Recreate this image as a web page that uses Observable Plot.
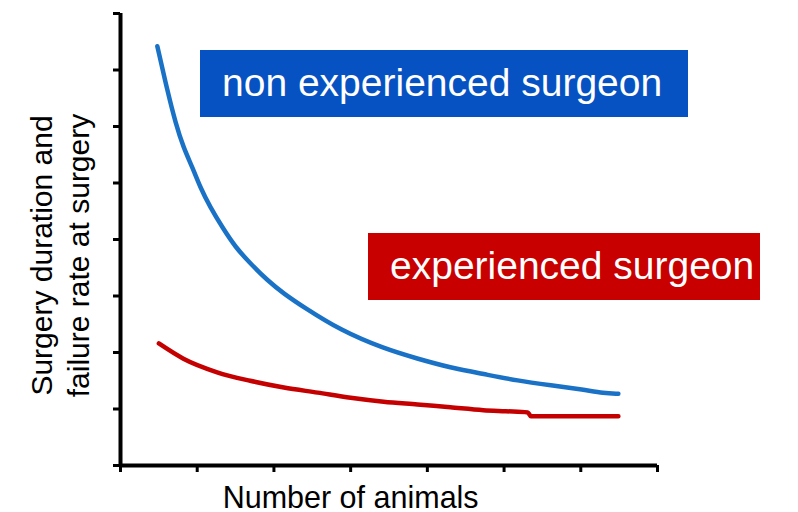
<!DOCTYPE html>
<html>
<head>
<meta charset="utf-8">
<script src="https://cdn.jsdelivr.net/npm/d3@7"></script>
<script src="https://cdn.jsdelivr.net/npm/@observablehq/plot@0.6"></script>
<style>
  html, body { margin: 0; padding: 0; background: #fff; }
  #wrap { position: relative; width: 798px; height: 512px; font-family: "Liberation Sans", Arial, sans-serif; }
  .tag { position: absolute; color: #fff; font-size: 39px; line-height: 1; white-space: nowrap; box-sizing: border-box; display: flex; align-items: center; justify-content: flex-start; padding-left: 22px; padding-bottom: 2px; }
</style>
</head>
<body>
<div id="wrap"></div>
<script>
// Number of animals (arbitrary units) for the non experienced surgeon curve
const novX = [0.48, 0.61, 0.72, 0.82, 0.94, 1.04, 1.17, 1.33, 1.50, 1.69, 1.92, 2.13, 2.39, 2.87, 3.43, 3.87, 4.30, 4.73, 5.18, 5.61, 6.04, 6.30, 6.49];
const novY = [7.42, 6.64, 6.05, 5.63, 5.27, 4.92, 4.57, 4.21, 3.86, 3.58, 3.27, 3.04, 2.80, 2.39, 2.07, 1.89, 1.73, 1.62, 1.50, 1.42, 1.34, 1.28, 1.27];
// experienced surgeon curve
const expX = [0.50, 0.82, 1.26, 1.69, 2.13, 2.57, 3.00, 3.43, 3.87, 4.30, 4.73, 5.02, 5.31, 5.35, 6.00, 6.49];
const expY = [2.16, 1.89, 1.65, 1.50, 1.38, 1.29, 1.20, 1.13, 1.08, 1.03, 0.98, 0.96, 0.94, 0.87, 0.87, 0.87];
const xTicks = [0, 1, 2, 3, 4, 5, 6, 7];
const yTicks = [0, 1, 2, 3, 4, 5, 6, 7, 8];
const seriesNames = ["non experienced surgeon", "experienced surgeon"];
const xLabel = "Number of animals";
const yLabel = "Surgery duration and\nfailure rate at surgery";

const nov = novX.map((x, i) => ({x, y: novY[i], s: seriesNames[0]}));
const exp = expX.map((x, i) => ({x, y: expY[i], s: seriesNames[1]}));

const chart = Plot.plot({
  width: 798,
  height: 512,
  marginLeft: 120,
  marginRight: 141,
  marginTop: 13,
  marginBottom: 47,
  style: {fontFamily: "'Liberation Sans', Arial, sans-serif", background: "#fff"},
  x: {domain: [0, 7], axis: null},
  y: {domain: [0, 8], axis: null},
  marks: [
    Plot.line(nov, {x: "x", y: "y", stroke: "#1a72c6", strokeWidth: 4.5, curve: "basis", strokeLinecap: "round"}),
    Plot.line(exp, {x: "x", y: "y", stroke: "#c40000", strokeWidth: 4.5, curve: "monotone-x", strokeLinecap: "round"}),
    Plot.axisY(yTicks, {tickSize: 7, strokeWidth: 3, stroke: "#000", tickFormat: () => "", label: null}),
    Plot.axisX(xTicks, {tickSize: 7, strokeWidth: 3, stroke: "#000", tickFormat: () => "", label: null}),
    Plot.ruleX([xTicks[0]], {stroke: "#000", strokeWidth: 4}),
    Plot.ruleY([yTicks[0]], {stroke: "#000", strokeWidth: 4, x1: xTicks[0], x2: xTicks[xTicks.length - 1]}),
    Plot.text([xLabel], {frameAnchor: "bottom", x: xTicks[3], dy: 42, fontSize: 30.5, fill: "#000", lineAnchor: "bottom"}),
    Plot.text([yLabel], {frameAnchor: "left", rotate: -90, textAnchor: "middle", dx: -62, dy: 16, fontSize: 30, fill: "#000", lineAnchor: "middle", lineHeight: 1.22})
  ]
});

const wrap = document.getElementById("wrap");
wrap.appendChild(chart);

const tags = [
  {text: seriesNames[0], bg: "#0652c2", left: 200, top: 50, w: 488, h: 67},
  {text: seriesNames[1], bg: "#c80000", left: 368, top: 233, w: 392, h: 67}
];
for (const t of tags) {
  const d = document.createElement("div");
  d.className = "tag";
  d.textContent = t.text;
  Object.assign(d.style, {left: t.left + "px", top: t.top + "px", width: t.w + "px", height: t.h + "px", background: t.bg});
  wrap.appendChild(d);
}
</script>
</body>
</html>
